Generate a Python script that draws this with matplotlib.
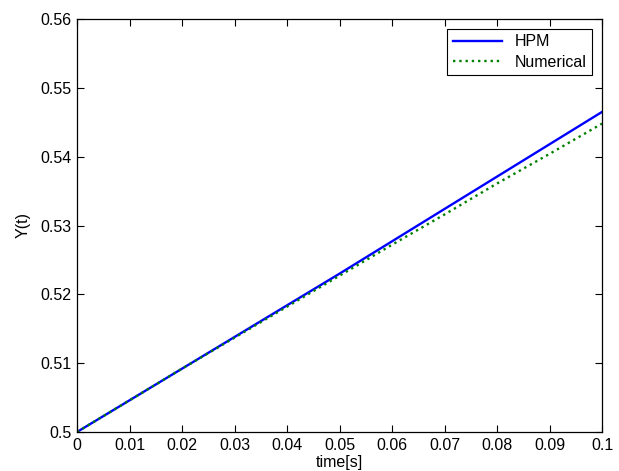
import matplotlib
matplotlib.use('Agg')
import matplotlib.pyplot as plt

plt.rcParams['font.family'] = ['Liberation Sans', 'DejaVu Sans']

# data
t = [0, 0.01, 0.02, 0.03, 0.04, 0.05, 0.06, 0.07, 0.08, 0.09, 0.1]
y_hpm = [0.5, 0.5046, 0.5092, 0.5138, 0.5184, 0.5230, 0.5277, 0.5324, 0.5371, 0.5418, 0.5465]
y_num = [0.5, 0.5046, 0.5092, 0.5137, 0.5182, 0.5227, 0.5272, 0.5316, 0.5361, 0.5404, 0.5448]
xticks = [0, 0.01, 0.02, 0.03, 0.04, 0.05, 0.06, 0.07, 0.08, 0.09, 0.1]
xticklabels = ['0', '0.01', '0.02', '0.03', '0.04', '0.05', '0.06', '0.07', '0.08', '0.09', '0.1']
yticks = [0.5, 0.51, 0.52, 0.53, 0.54, 0.55, 0.56]
yticklabels = ['0.5', '0.51', '0.52', '0.53', '0.54', '0.55', '0.56']

fig = plt.figure(figsize=(6.19, 4.71), dpi=100, facecolor='w')
ax = fig.add_axes([77/619, (471-432)/471, (602-77)/619, (432-19)/471])

ax.plot(t, y_hpm, color=(0, 0, 1), lw=1.7, label='HPM')
ax.plot(t, y_num, color=(0, 0.5, 0), lw=1.7, ls=':', label='Numerical')

ax.set_xlim(0, 0.1)
ax.set_ylim(0.5, 0.56)
ax.set_xticks(xticks)
ax.set_xticklabels(xticklabels)
ax.set_yticks(yticks)
ax.set_yticklabels(yticklabels)
ax.tick_params(direction='in', length=5, width=0.8, labelsize=11.5, top=True, right=True, pad=4)
for s in ax.spines.values():
    s.set_linewidth(0.9)

ax.set_xlabel('time[s]', fontsize=11.5, labelpad=2)
ax.set_ylabel('Y(t)', fontsize=11.5, labelpad=7)

leg = ax.legend(loc='upper right', fontsize=11.5, fancybox=False, framealpha=1,
                edgecolor='k', borderaxespad=0.6, handlelength=3.1,
                borderpad=0.35, labelspacing=0.35)
leg.get_frame().set_linewidth(0.8)

fig.savefig('out.png', dpi=100)
